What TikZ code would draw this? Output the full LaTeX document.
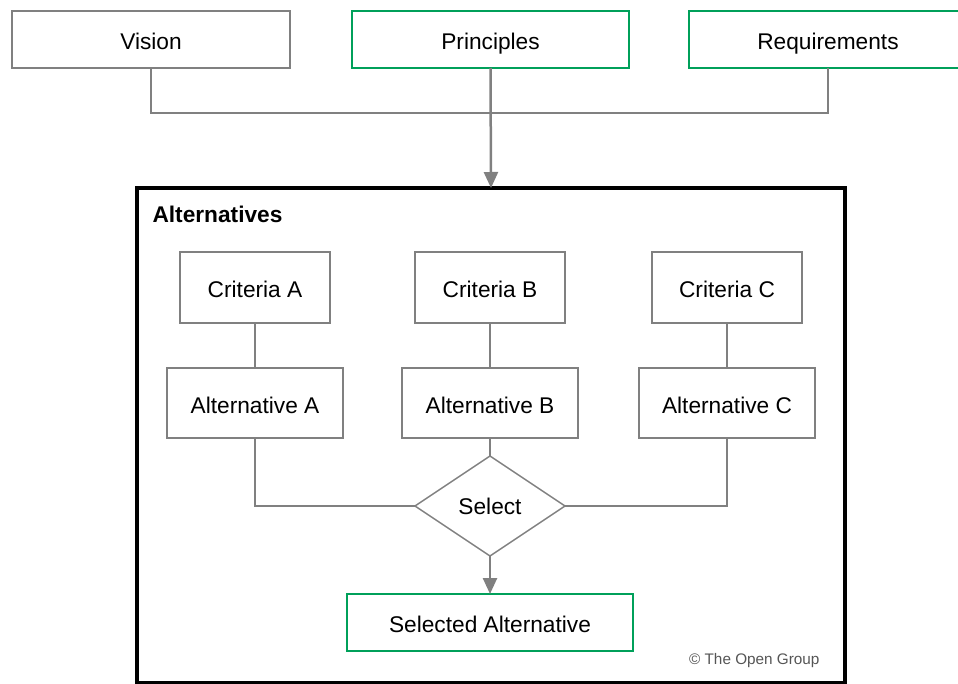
\documentclass[tikz,border=0pt]{standalone}
\usepackage{fontspec}
\setmainfont{Liberation Sans}
\usetikzlibrary{arrows.meta,shapes.geometric}
\definecolor{boxgray}{HTML}{808080}
\definecolor{oggreen}{HTML}{00A05A}
\definecolor{copygray}{HTML}{555555}
\begin{document}
\begin{tikzpicture}[x=1pt,y=-1pt,
  font=\fontsize{22.7}{26}\selectfont,
  txt/.style={text height=20pt,text depth=0pt},
  graybox/.style={draw=boxgray,line width=2.5pt,inner sep=0pt,outer sep=0pt,txt},
  greenbox/.style={draw=oggreen,line width=2.5pt,inner sep=0pt,outer sep=0pt,txt},
  conn/.style={draw=boxgray,line width=2.5pt},
  arr/.style={conn,-{Triangle[length=16pt,width=14pt]}}]
\useasboundingbox (0,0) rectangle (958,683);
% top row
\node[graybox,minimum width=278,minimum height=57] (vision) at (151,39.5) {Vision};
\node[greenbox,minimum width=277,minimum height=57] (pri) at (490.5,39.5) {Principles};
\node[greenbox,minimum width=278,minimum height=57] (req) at (828,39.5) {Requirements};
\coordinate (bar) at (490,113);
% container
\node[draw=black,line width=4.5pt,minimum width=708,minimum height=495,inner sep=0pt,outer sep=0pt] (altbox) at (491,435.5) {};
\node[anchor=west,font=\fontsize{22.7}{26}\selectfont\bfseries] (alttitle) at (149,214) {Alternatives};
% criteria
\node[graybox,minimum width=150,minimum height=71] (critA) at (255,287.5) {Criteria A};
\node[graybox,minimum width=150,minimum height=71] (critB) at (490,287.5) {Criteria B};
\node[graybox,minimum width=150,minimum height=71] (critC) at (727,287.5) {Criteria C};
% alternatives
\node[graybox,minimum width=176,minimum height=70] (altA) at (255,403) {Alternative A};
\node[graybox,minimum width=176,minimum height=70] (altB) at (490,403) {Alternative B};
\node[graybox,minimum width=176,minimum height=70] (altC) at (727,403) {Alternative C};
% select
\node[diamond,draw=boxgray,line width=1.5pt,minimum width=150,minimum height=100,inner sep=0pt,outer sep=0pt] (sel) at (490,506) {Select};
\node[greenbox,minimum width=286,minimum height=57] (selalt) at (490,622.5) {Selected Alternative};
\node[anchor=east,text=copygray,font=\fontsize{15.3}{17}\selectfont] (copy) at (823,661) {\textcopyright{} The Open Group};
% connectors
\draw[conn] (vision.south) |- (bar) -| (req.south);
\draw[arr] (pri.south) -- (altbox.north);
\draw[conn] (critA) -- (altA);
\draw[conn] (critB) -- (altB);
\draw[conn] (critC) -- (altC);
\draw[conn] (altA.south) |- (sel.west);
\draw[conn] (altC.south) |- (sel.east);
\draw[conn] (altB.south) -- (sel.north);
\draw[arr] (sel.south) -- (selalt.north);
\end{tikzpicture}
\end{document}
